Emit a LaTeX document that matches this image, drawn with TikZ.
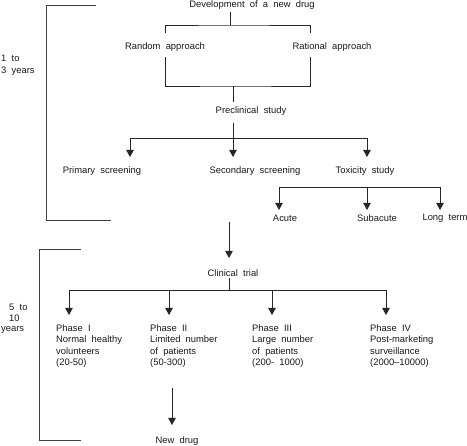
\documentclass[tikz,border=0pt]{standalone}
\usepackage{fontspec}
\setmainfont{Liberation Sans}[WordSpace=2]
\usetikzlibrary{arrows.meta}
\begin{document}
\begin{tikzpicture}[x=1pt,y=-1pt,
  lbl/.style={inner sep=0pt, font=\fontsize{9.4}{11.5}\selectfont, text=black!90},
  lineclr/.style={draw=black!85, line width=0.9pt},
  arr/.style={lineclr, -{Triangle[width=7.5pt,length=7pt]}},
  brk/.style={draw=black!75, line width=0.9pt}]
\useasboundingbox (0,0) rectangle (467,446);
% texts
\node[lbl] (dev) at (252,5) {Development of a new drug};
\node[lbl] (rand) at (165,47) {Random approach};
\node[lbl] (rat) at (332,47) {Rational approach};
\node[lbl] (pre) at (251,111) {Preclinical study};
\node[lbl] (prim) at (102,171) {Primary screening};
\node[lbl] (sec) at (255,171) {Secondary screening};
\node[lbl] (tox) at (365,171) {Toxicity study};
\node[lbl] (acute) at (285,218) {Acute};
\node[lbl] (sub) at (377,218) {Subacute};
\node[lbl] (long) at (445,218) {Long term};
\node[lbl] (clin) at (233,273) {Clinical trial};
\node[lbl, anchor=north west, align=left] (p1) at (56,324) {Phase I\\Normal healthy\\volunteers\\(20-50)};
\node[lbl, anchor=north west, align=left] (p2) at (150,324) {Phase II\\Limited number\\of patients\\(50-300)};
\node[lbl, anchor=north west, align=left] (p3) at (252,324) {Phase III\\Large number\\of patients\\(200- 1000)};
\node[lbl, anchor=north west, align=left] (p4) at (370,324) {Phase IV\\Post-marketing\\surveillance\\(2000--10000)};
\node[lbl] (newd) at (177,441) {New drug};
\node[lbl, anchor=west, align=left] (yr1) at (1,65) {1 to\\3 years};
\node[lbl, anchor=west] (yr5) at (9,307) {5 to};
\node[lbl, anchor=west] (yr10) at (9,318) {10};
\node[lbl, anchor=west] (yry) at (1,330) {years};
% coordinates
\coordinate (d1) at (230,12);
\coordinate (d2) at (230,25);
\coordinate (ra1) at (165,33);
\coordinate (rt1) at (310,33);
\coordinate (ra2) at (165,57);
\coordinate (rt2) at (310,57);
\coordinate (m1) at (233,86);
\coordinate (m2) at (233,102);
\coordinate (pc1) at (233,123);
\coordinate (tb) at (367,187);
\coordinate (c1) at (229,222);
\coordinate (c2) at (229,258);
\coordinate (cl1) at (229,278);
\coordinate (clb) at (229,290);
\coordinate (n1) at (172,388);
\coordinate (n2) at (172,425);
% development tree
\draw[lineclr] (d1) -- (d2);
\draw[lineclr] (ra1) |- (d2) -| (rt1);
\draw[lineclr] (ra2) |- (m1) -| (rt2);
\draw[lineclr] (m1) -- (m2);
% preclinical
\draw[arr] (pc1) -- (233,157);
\draw[lineclr] (130,138) -- (367,138);
\draw[arr] (130,138) -- (130,157);
\draw[arr] (367,138) -- (367,157);
% toxicity
\draw[lineclr] (279,187) -- (440,187);
\draw[arr] (279,187) -- (279,210);
\draw[arr] (tb) -- (367,210);
\draw[arr] (440,187) -- (440,210);
% to clinical
\draw[arr] (c1) -- (c2);
\draw[lineclr] (cl1) -- (clb);
\draw[lineclr] (69,290) -- (386,290);
\draw[arr] (69,290) -- (69,315);
\draw[arr] (169,290) -- (169,315);
\draw[arr] (272,290) -- (272,315);
\draw[arr] (386,290) -- (386,315);
% new drug
\draw[arr] (n1) -- (n2);
% brackets
\draw[brk] (96,5) -- (46,5) -- (46,220) -- (111,220);
\draw[brk] (81,249) -- (39,249) -- (39,440) -- (81,440);
\end{tikzpicture}
\end{document}
